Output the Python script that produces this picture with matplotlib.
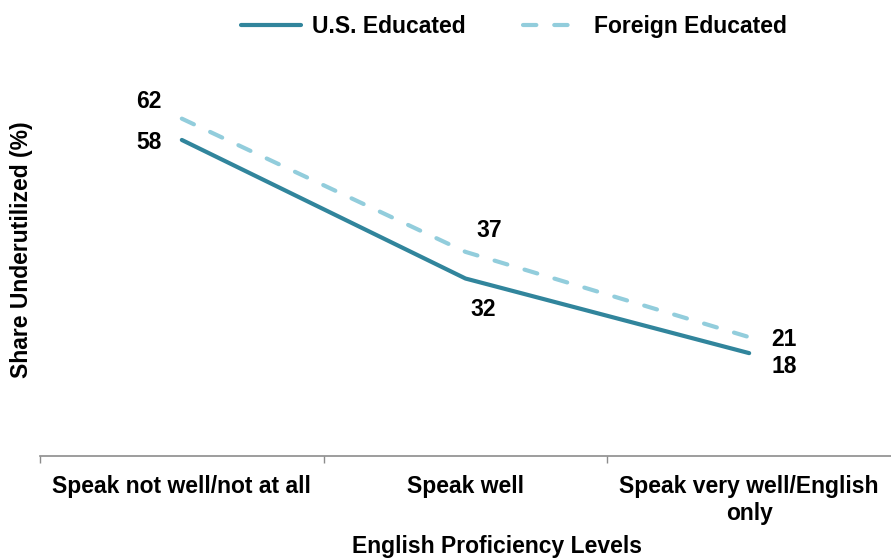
import matplotlib.pyplot as plt

plt.rcParams['font.family'] = ['Liberation Sans', 'DejaVu Sans']
plt.rcParams['font.weight'] = 'bold'

categories = ["Speak not well/not at all", "Speak well", "Speak very well/English\nonly"]
us_educated = [58, 32, 18]
foreign_educated = [62, 37, 21]

US_COLOR = "#31859C"
FOREIGN_COLOR = "#92CDDC"
FS = 16.5

fig = plt.figure(figsize=(8.91, 5.58), dpi=100)
ax = fig.add_axes([40 / 891, 0.1828, 1 - 40 / 891, 0.6810])

x = list(range(len(categories)))
ax.plot(x, us_educated, color=US_COLOR, lw=3, solid_capstyle="round", label="U.S. Educated")
ax.plot(x, foreign_educated, color=FOREIGN_COLOR, lw=3, ls=(0, (3.2, 4.3)),
        dash_capstyle="round", label="Foreign Educated")

ax.set_xlim(-0.5, 2.5)
ax.set_ylim(-1.3, 70)

# data labels: (dx in categories, dy in data units)
us_off = [(-0.115, -0.5), (0.063, -5.8), (0.123, -2.6)]
fo_off = [(-0.115, 3.2), (0.085, 4.1), (0.123, -0.5)]
for i, v in enumerate(us_educated):
    dx, dy = us_off[i]
    ax.text(i + dx, v + dy, str(v), ha="center", va="center", fontsize=FS, fontweight="bold")
for i, v in enumerate(foreign_educated):
    dx, dy = fo_off[i]
    ax.text(i + dx, v + dy, str(v), ha="center", va="center", fontsize=FS, fontweight="bold")

for s in ["top", "right", "left"]:
    ax.spines[s].set_visible(False)
ax.spines["bottom"].set_color("#8c8c8c")
ax.spines["bottom"].set_linewidth(1.2)
ax.set_yticks([])

ax.set_xticks(x)
ax.set_xticklabels(categories, fontsize=FS, fontweight="bold")
ax.tick_params(axis="x", length=0, pad=14)
ax.set_xticks([-0.5, 0.5, 1.5], minor=True)
ax.tick_params(axis="x", which="minor", length=5, color="#8c8c8c", width=1)

# axis titles placed in figure coords so they sit where the reference has them
fig.text(497 / 891, 1 - 547 / 558, "English Proficiency Levels", ha="center", va="center",
         fontsize=FS, fontweight="bold")
fig.text(22 / 891, 1 - 250 / 558, "Share Underutilized (%)", ha="center", va="center",
         rotation=90, fontsize=FS, fontweight="bold")

fig.legend(loc="upper center", bbox_to_anchor=(0.577, 1.01), ncol=2, frameon=False,
           fontsize=FS, handlelength=2.6, columnspacing=2.5, handletextpad=0.5)

fig.savefig("out.png", dpi=100)
